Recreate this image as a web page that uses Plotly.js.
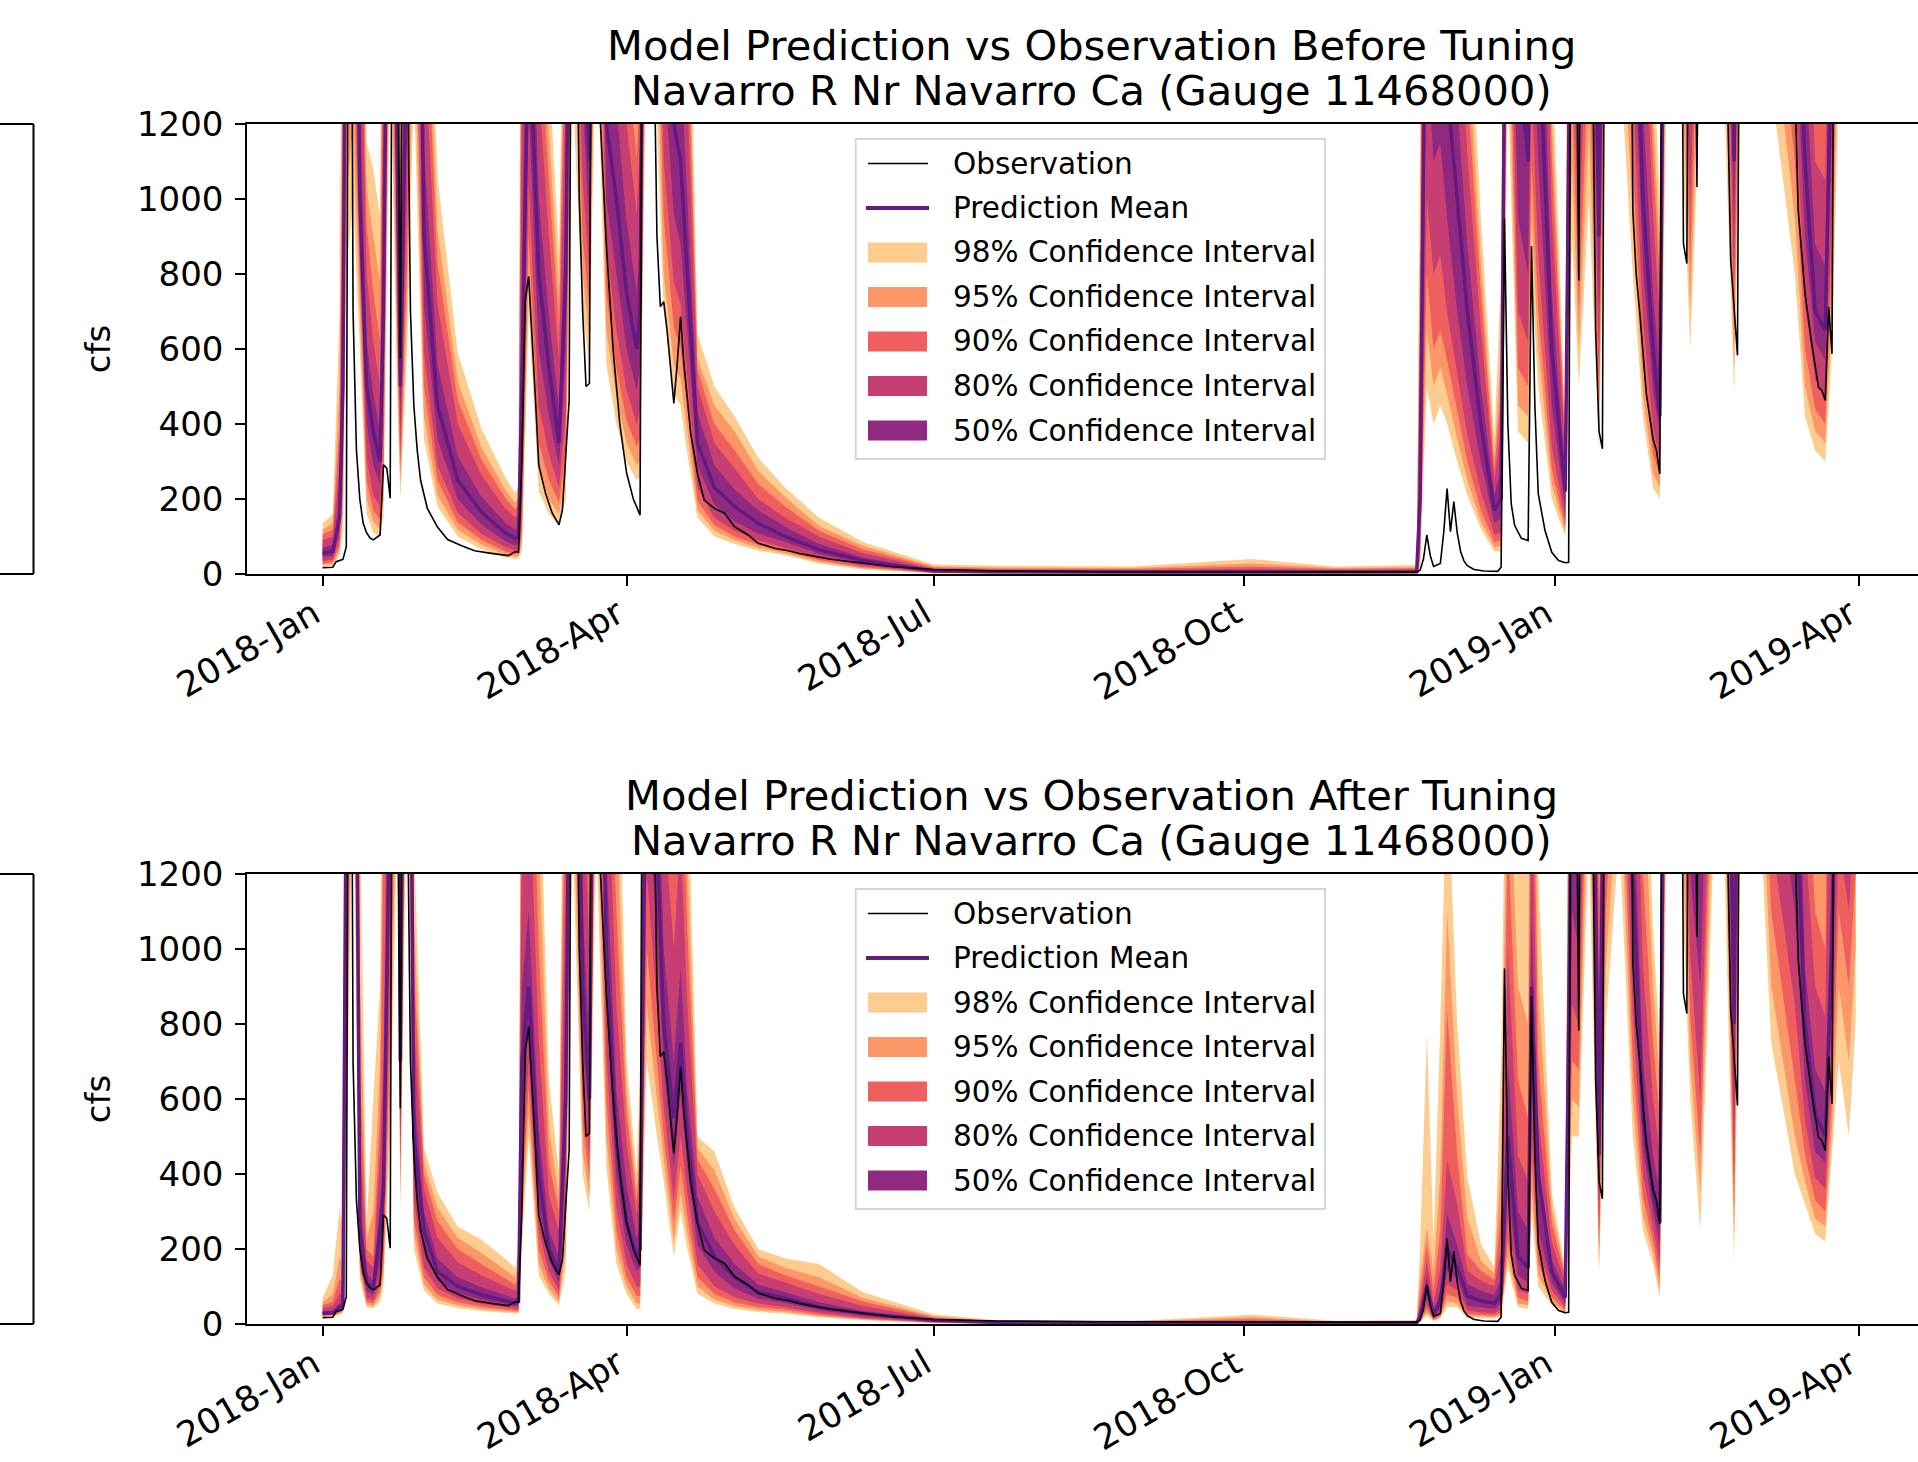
<!DOCTYPE html>
<html><head><meta charset="utf-8">
<script src="https://cdn.plot.ly/plotly-3.0.1.min.js"></script>
<style>html,body{margin:0;padding:0;overflow:hidden;background:#fff}#chart{width:1960px;height:1462px}</style>
</head><body><div id="chart"></div>
<script>
// ---------- data (day offsets from 2018-01-01) ----------
const bandDays = [0,3,5,6,7,9,11,13,15,17, 18,20,22,23,25,27,30,34,40,47, 54,57,58,59,61,64,67,70,72,74, 77,79,81,84,87,90,93,94,96,99, 101,104,106,108,111,116,122,129,137,147, 160,181,200,240,275,300,324,325,327,329, 331,333,336,339,343,347,349,351,354,357, 358,360,364,368,370,372,375,378,380,384, 388,391,394,396,398,402,405,408,412,415, 418,420,426,429,436,439,442,445,447,449, 452,454];

// Before tuning
const beforeMean = [55,60,150,500,2000,2500,1000,500,380,300, 700,2500,1200,500,1500,3000,900,450,250,165, 110,95,100,500,1500,800,550,350,800,2500, 1500,1100,3000,1200,1000,750,600,700,3000,2500, 1800,1200,1100,800,350,230,180,135,100,65, 35,8,6,5,6,5,6,200,2000,1500, 1500,1300,1000,700,400,170,200,2500,1400,1100, 2000,1500,600,220,2000,1500,2500,900,2500,2500, 1800,1000,600,420,2500,2500,1500,2500,2500,2500, 1100,2500,2500,2500,1800,1100,700,650,1500,2500, 2500,2500];
const beforeLo98 = [20,22,50,120,800,1000,600,160,110,100, 150,1400,500,200,600,1300,360,180,100,66, 44,40,42,60,700,220,160,130,200,1300, 700,550,1500,560,400,300,250,260,1500,1200, 700,480,450,320,150,100,80,62,50,28, 12,1,1,1,1,1,1,20,500,400, 450,400,300,210,120,60,60,1300,380,350, 800,500,200,100,900,500,1000,330,1300,1400, 800,420,230,200,1300,1300,600,1300,1300,1300, 480,1300,1300,1300,800,420,330,300,600,1300, 1300,1300];
const beforeLo95 = [24,26,62,160,1000,1200,700,200,140,120, 200,1600,600,235,700,1500,420,210,118,78, 52,46,48,80,800,280,200,160,260,1500, 800,620,1700,650,470,350,290,300,1700,1400, 800,560,520,380,170,115,90,70,55,32, 15,2,1,1,2,1,2,30,650,500, 550,480,360,250,140,70,75,1500,450,420, 950,600,240,112,1100,600,1200,390,1500,1600, 950,480,270,230,1500,1500,700,1500,1500,1500, 550,1500,1500,1500,950,500,380,350,700,1500, 1500,1500];
const beforeLo90 = [28,32,75,220,1200,1400,780,250,170,145, 280,1800,700,275,820,1700,500,250,138,91, 60,53,55,110,900,350,250,190,330,1700, 900,700,1900,750,550,410,340,360,1900,1600, 950,660,600,440,195,130,100,78,62,37, 18,3,2,2,3,2,3,45,800,600, 650,570,430,300,170,85,90,1700,550,500, 1100,700,280,125,1300,700,1400,460,1700,1800, 1100,560,320,265,1700,1700,820,1700,1700,1700, 650,1700,1700,1700,1100,600,440,400,820,1700, 1700,1700];
const beforeLo80 = [35,38,95,300,1400,1700,850,310,210,180, 380,2000,850,325,980,2000,590,290,163,107, 72,62,65,170,1050,450,320,230,430,1900, 1050,800,2200,880,650,490,400,440,2200,1900, 1100,780,720,520,230,150,115,90,70,44, 22,4,3,3,4,3,4,70,1000,800, 850,700,530,370,220,105,110,1900,700,620, 1300,850,340,145,1500,850,1700,560,1900,2000, 1300,680,390,310,1900,1900,980,1900,1900,1900, 780,1900,1900,1900,1300,720,520,470,980,1900, 1900,1900];
const beforeLo50 = [45,48,120,400,1700,2100,920,400,290,240, 520,2200,1000,400,1200,2500,720,360,200,132, 88,76,80,300,1250,600,420,290,580,2200, 1250,930,2500,1000,800,600,490,560,2500,2200, 1350,960,880,640,290,185,140,108,85,54, 28,6,4,4,5,4,5,120,1400,1100, 1150,950,700,500,300,135,150,2200,950,800, 1600,1100,450,175,1800,1100,2000,700,2200,2200, 1500,830,490,370,2200,2200,1200,2200,2200,2200, 930,2200,2200,2200,1500,900,620,570,1200,2200, 2200,2200];
const beforeHi50 = [70,78,200,700,2500,3100,1250,620,480,380, 900,3000,1500,625,1900,3800,1130,560,313,206, 138,118,125,800,1900,1000,690,440,1000,3000, 1900,1350,3600,1500,1250,940,750,880,3600,3000, 2300,1500,1380,1000,430,290,225,170,125,80, 44,11,8,7,9,7,9,300,2600,1900, 1900,1650,1250,880,500,210,280,3000,1750,1380, 2500,1900,750,265,2500,1900,3100,1130,3000,3000, 2200,1250,750,530,3000,3000,1900,3000,3000,3000, 1380,3000,3000,3000,2200,1380,880,820,1900,3000, 3000,3000];
const beforeHi80 = [90,100,280,1000,3200,4000,1600,800,620,500, 1300,3600,1900,800,2400,4800,1440,720,400,264, 176,150,160,1200,2400,1300,900,570,1300,3600, 2400,1700,4300,1900,1600,1200,960,1150,4300,3600, 2900,1900,1760,1280,500,350,280,200,150,100, 55,14,11,10,14,10,12,500,3200,2400, 2400,2100,1600,1120,650,250,380,3600,2200,1760, 3200,2400,960,315,3000,2400,3800,1440,3600,3600, 2800,1600,960,680,3600,3600,2400,3600,3600,3600, 1760,3600,3600,3600,2800,1760,1100,1050,2400,3600, 3600,3600];
const beforeHi90 = [105,118,380,1300,3700,4600,1850,930,750,620, 1700,4000,2200,925,2800,5500,1670,830,463,305, 204,172,185,1600,2800,1500,1050,660,1550,4000, 2800,1950,4800,2200,1850,1390,1110,1350,4800,4000, 3300,2200,2030,1480,545,400,330,240,180,115, 65,17,14,13,20,13,15,700,3700,2800, 2800,2450,1850,1300,750,280,480,4000,2600,2030, 3700,2800,1110,345,3500,2800,4400,1670,4000,4000, 3200,1850,1110,780,4000,4000,2800,4000,4000,4000, 2030,4000,4000,4000,3200,2030,1250,1200,2800,4000, 4000,4000];
const beforeHi95 = [118,135,500,1600,4100,5100,2050,1030,900,780, 2000,4400,2500,1025,3100,6000,1850,920,513,338, 226,190,205,2000,3100,1700,1180,740,1750,4400, 3100,2150,5200,2500,2050,1540,1230,1550,5200,4400, 3700,2450,2250,1640,575,450,380,275,205,128, 75,20,17,16,28,16,18,900,4100,3100, 3100,2700,2050,1450,830,310,600,4400,2900,2250, 4100,3100,1230,365,3900,3100,4900,1850,4400,4400, 3500,2050,1230,870,4400,4400,3100,4400,4400,4400, 2250,4400,4400,4400,3500,2250,1380,1350,3100,4400, 4400,4400];
const beforeHi98 = [135,160,700,2000,4700,5800,2350,1150,1080,950, 2400,5000,2800,1180,3500,7000,2100,1060,590,388, 259,215,235,2500,3500,2000,1350,850,2000,5000, 3500,2450,6000,2900,2350,1760,1410,1800,6000,5000, 4200,2800,2600,1880,640,500,420,310,230,150, 85,25,22,20,40,20,24,1200,4600,3500, 3500,3100,2350,1650,950,360,800,5000,3300,2600, 4600,3500,1410,385,4400,3500,5500,2100,5000,5000, 4000,2350,1410,1000,5000,5000,3500,5000,5000,5000, 2600,5000,5000,5000,4000,2600,1580,1550,3500,5000, 5000,5000];

// After tuning
const afterMean = [28,30,45,50,1500,3000,260,110,95,250, 350,1500,2500,700,3000,500,250,140,100,78, 62,55,60,700,900,400,200,140,600,2500, 900,600,2500,1000,480,270,180,200,1800,1300, 800,550,750,500,270,180,125,85,68,45, 28,10,4,3,4,3,3,20,100,25, 60,200,150,75,62,55,80,500,180,150, 900,400,140,70,1500,1200,2500,450,2000,2500, 1200,550,350,270,2500,2500,1500,1300,2500,2500, 800,2500,2500,2500,1500,800,560,500,1000,2000, 1800,2000];
const afterLo98 = [18,20,25,30,400,1500,120,45,42,60, 100,500,1300,300,1500,200,90,55,42,35, 30,28,28,200,500,130,80,50,150,1300, 400,300,1300,420,160,80,40,40,700,500, 380,180,300,200,80,55,40,32,28,18, 10,2,1,0.5,1,1,1,5,22,8, 15,45,45,16,16,15,20,150,45,40, 300,100,50,25,500,500,1300,130,800,1300, 500,250,160,70,1300,1300,600,250,1300,1300, 170,1300,1300,750,400,320,240,220,450,700, 500,800];
const afterLo95 = [20,22,28,33,500,1700,140,52,48,75, 130,600,1500,340,1700,240,105,65,50,40, 34,31,31,260,560,160,95,60,200,1500, 460,340,1500,500,200,100,55,55,850,600, 440,220,350,240,100,65,48,38,32,21, 12,3,1,1,1.5,1,1,7,31,10, 18,62,55,22,20,18,25,180,55,50, 360,130,60,30,600,580,1500,160,950,1500, 600,290,190,90,1500,1500,700,350,1500,1500, 230,1500,1500,900,500,380,280,260,520,900, 700,1000];
const afterLo90 = [22,24,31,37,650,1900,160,60,55,90, 160,750,1700,380,1900,280,125,78,58,46, 39,35,35,330,630,200,115,72,260,1700, 530,390,1700,600,250,125,75,75,1000,700, 500,270,420,290,125,80,58,45,38,25, 14,4,2,1.5,2,1.5,1.5,9,40,12, 22,80,70,27,25,22,30,220,70,60, 430,160,72,36,700,680,1700,200,1100,1700, 700,340,220,120,1700,1700,820,450,1700,1700, 300,1700,1700,1100,650,450,330,300,600,1100, 900,1200];
const afterLo80 = [24,26,35,41,800,2200,185,70,63,110, 200,900,1900,430,2200,330,150,95,68,54, 45,40,40,420,700,250,140,88,340,1900, 620,450,1900,720,310,160,100,100,1200,850, 580,330,500,350,160,100,72,55,45,30, 17,5,2,2,2.5,2,2,12,53,15, 28,107,90,36,31,28,40,280,90,80, 520,200,90,45,850,800,1900,250,1300,1900, 830,400,260,160,1900,1900,980,600,1900,1900, 400,1900,1900,1300,850,540,390,360,700,1300, 1100,1400];
const afterLo50 = [26,28,40,46,1100,2600,220,88,77,160, 260,1150,2200,500,2600,400,190,115,82,65, 54,48,50,550,800,320,170,110,450,2200, 750,520,2200,860,390,210,140,150,1450,1050, 680,420,620,420,210,140,95,68,56,37, 22,7,3,2.5,3,2.5,2.5,16,71,19, 40,142,120,49,45,40,55,360,130,110, 650,250,110,55,1100,1000,2200,330,1600,2200, 1000,470,300,210,2200,2200,1200,900,2200,2200, 550,2200,2200,1600,1100,650,460,430,850,1600, 1400,1700];
const afterHi50 = [34,36,55,60,2000,3500,330,135,115,320, 450,1900,3000,900,3500,620,300,175,125,98, 78,68,75,900,1100,520,250,180,800,3000, 1100,750,3000,1250,620,370,230,260,2200,1600, 1000,700,950,620,340,230,160,105,85,58, 35,12,5,4,6,4,4,30,125,35, 90,294,210,107,89,78,120,700,300,250, 1100,420,170,90,1900,1500,3000,600,2500,3000, 1450,700,450,350,3000,3000,1900,1800,3000,3000, 900,3000,3000,2600,2000,950,680,620,1250,2500, 2200,2500];
const afterHi80 = [42,48,80,80,2600,4200,480,170,150,450, 700,2400,3600,1300,4200,800,360,230,165,130, 100,88,100,1300,1500,750,340,250,1200,3600, 1500,1000,3600,1600,850,480,290,350,2800,2000, 1350,1000,1300,850,400,300,210,135,110,80, 48,15,6,5,9,5,5,50,169,55, 150,436,320,142,116,100,200,1000,450,380, 1500,550,220,110,2400,1900,3600,850,3100,3600, 1900,950,600,450,3600,3600,2400,2500,3600,3600, 1300,3600,3600,3200,2600,1300,900,820,1600,3100, 2800,3100];
const afterHi90 = [50,60,120,110,3000,4700,680,200,180,560, 1300,2800,4000,1700,4700,950,400,275,200,160, 120,105,130,1700,1900,1000,430,300,1600,4000, 1900,1300,4000,1900,1100,560,330,450,3200,2400, 1700,1300,1600,1050,440,360,250,160,130,100, 60,18,7,6,13,6,6,80,214,90, 250,837,450,187,142,118,300,1300,650,550, 1900,700,270,125,2800,2200,4000,1100,3600,4000, 2300,1200,750,550,4000,4000,2800,3000,4000,4000, 1700,4000,4000,3600,3000,1600,1100,1000,1900,3600, 3200,3600];
const afterHi95 = [58,80,180,150,3400,5200,950,225,300,700, 1600,3100,4400,2100,5200,1100,430,310,230,190, 145,125,160,2000,2300,1300,520,340,2000,4400, 2300,1600,4400,2200,1400,620,360,550,3600,2700, 2000,1600,1900,1250,470,410,280,180,150,125, 70,21,8,7,18,7,8,120,258,140, 400,1100,600,285,169,135,450,1600,900,800, 2300,900,310,135,3100,2500,4400,1400,4000,4400, 2700,1500,900,650,4400,4400,3100,3400,4400,4400, 2100,4400,4400,4000,3400,1900,1300,1200,2200,4000, 3600,4000];
const afterHi98 = [70,130,310,250,4000,6000,1400,260,600,900, 2000,3500,5000,2600,6000,1300,470,350,260,225, 175,150,200,2400,2800,1600,650,400,2500,5000, 2800,2000,5000,2600,1800,700,400,700,4000,3100, 2400,2000,2300,1500,500,460,310,200,175,160, 85,26,10,8,25,9,11,200,774,220, 800,1500,800,392,214,151,700,2000,1300,1200, 2800,1200,350,145,3500,2900,5000,1800,4500,5000, 3100,1800,1050,750,5000,5000,3500,3800,5000,5000, 2600,5000,5000,4600,3800,2300,1600,1500,2600,4500, 4000,4500];

// Observation [day, cfs] (same in both panels)
const observed = [[0,17],[3,18],[4,33],[6,39],[7,73],[8,3000],[9,700],[10,330],[11,200],[12,135],[13,110],[14,96],[15,91],[16,98],[17,104],[18,291],[19,282],[20,202],[21,3000],[22,1800],[23,575],[24,2500],[25,1500],[26,700],[27,450],[28,330],[29,250],[31,175],[34,125],[37,92],[41,76],[45,62],[50,55],[54,51],[55,49],[57,60],[58,58],[59,300],[60,730],[61,793],[62,642],[63,470],[64,290],[66,215],[68,162],[70,131],[71,171],[72,320],[73,464],[74,2500],[75,1800],[76,1000],[77,700],[78,500],[79,508],[80,2500],[81,2000],[82,1250],[84,880],[86,600],[88,400],[90,270],[92,200],[94,157],[95,2500],[97,3000],[98,1500],[99,900],[100,713],[101,726],[102,650],[103,553],[104,455],[105,560],[106,686],[107,560],[108,470],[109,375],[111,268],[113,197],[116,175],[119,162],[122,126],[126,104],[129,82],[134,68],[138,62],[141,55],[150,40],[160,28],[168,20],[181,12],[200,8],[230,6],[260,5],[290,5],[324,5],[325,10],[326,40],[327,104],[328,50],[329,20],[331,28],[332,110],[333,228],[334,113],[335,193],[336,110],[337,60],[338,35],[339,22],[341,12],[344,8],[348,7],[349,18],[350,948],[351,400],[352,187],[353,130],[355,95],[357,89],[358,874],[359,450],[360,214],[362,116],[364,58],[366,36],[368,30],[369,31],[370,2500],[371,1800],[372,783],[373,2500],[375,2000],[376,1500],[377,650],[378,380],[379,334],[380,2500],[387,2500],[388,970],[389,800],[390,703],[391,580],[392,481],[394,360],[395,330],[396,267],[397,2500],[402,2500],[403,881],[404,828],[405,2500],[406,2000],[407,1032],[408,2500],[415,2500],[416,1300],[417,837],[418,703],[419,583],[420,2500],[435,2500],[436,1300],[437,970],[439,748],[441,614],[443,498],[444,489],[445,463],[446,712],[447,587],[448,2500],[454,2500]];

const tickDates = ['2018-01-01','2018-04-01','2018-07-01','2018-10-01','2019-01-01','2019-04-01'];
const yTicks = [0,200,400,600,800,1000,1200];
const titlesBefore = ['Model Prediction vs Observation Before Tuning','Navarro R Nr Navarro Ca (Gauge 11468000)'];
const titlesAfter = ['Model Prediction vs Observation After Tuning','Navarro R Nr Navarro Ca (Gauge 11468000)'];
const legendLabels = ['Observation','Prediction Mean','98% Confidence Interval','95% Confidence Interval','90% Confidence Interval','80% Confidence Interval','50% Confidence Interval'];
const bandColors = ['#fdcd90','#fc9868','#ef5f5d','#c73e73','#8f2a80'];
const meanColor = '#641a80';

// ---------- build ----------
const all = [beforeMean,beforeLo98,beforeLo95,beforeLo90,beforeLo80,beforeLo50,beforeHi50,beforeHi80,beforeHi90,beforeHi95,beforeHi98,
  afterMean,afterLo98,afterLo95,afterLo90,afterLo80,afterLo50,afterHi50,afterHi80,afterHi90,afterHi95,afterHi98];
all.forEach((a,i)=>{ if(a.length!==bandDays.length) throw new Error('array '+i+' length '+a.length+' != '+bandDays.length); });

const T0 = Date.UTC(2018,0,1);
const toDate = d => new Date(T0 + d*86400000).toISOString().slice(0,10);
const bx = bandDays.map(toDate);
const ox = observed.map(p=>toDate(p[0]));
const oy = observed.map(p=>p[1]);

const W = 1960, H = 1462;
const px = x => x/W, py = y => 1 - y/H;
const FONT = 'DejaVu Sans, Liberation Sans, sans-serif';

function panel(xa, ya, mean, bands){
  const tr = [];
  bands.forEach((b,i)=>{
    tr.push({x:bx, y:b[0], xaxis:xa, yaxis:ya, mode:'lines', line:{width:0,color:bandColors[i]}, hoverinfo:'skip', showlegend:false});
    tr.push({x:bx, y:b[1], xaxis:xa, yaxis:ya, mode:'lines', line:{width:0,color:bandColors[i]}, fill:'tonexty', fillcolor:bandColors[i], name:legendLabels[i+2], hoverinfo:'skip', showlegend:false});
  });
  tr.push({x:bx, y:mean, xaxis:xa, yaxis:ya, mode:'lines', line:{width:3.5,color:meanColor}, name:'Prediction Mean', showlegend:false});
  tr.push({x:ox, y:oy, xaxis:xa, yaxis:ya, mode:'lines', line:{width:1.6,color:'#000'}, name:'Observation', showlegend:false});
  return tr;
}

const traces = [].concat(
  panel('x','y', beforeMean, [[beforeLo98,beforeHi98],[beforeLo95,beforeHi95],[beforeLo90,beforeHi90],[beforeLo80,beforeHi80],[beforeLo50,beforeHi50]]),
  panel('x2','y2', afterMean, [[afterLo98,afterHi98],[afterLo95,afterHi95],[afterLo90,afterHi90],[afterLo80,afterHi80],[afterLo50,afterHi50]])
);

function xAxis(anchor){
  return {domain:[px(247.3),px(1935)], anchor:anchor, type:'date', range:['2017-12-09 16:19','2019-04-23 12:00'],
    tickmode:'array', tickvals:tickDates, tickformat:'%Y-%b', tickangle:-30,
    ticks:'outside', ticklen:10, tickwidth:2, tickcolor:'#000', ticklabelshift:-9, ticklabelstandoff:-6,
    showline:true, linecolor:'#000', linewidth:2, mirror:true, showgrid:false, zeroline:false,
    tickfont:{family:FONT,size:35,color:'#000'}, fixedrange:true};
}
function yAxis(anchor, top, bottom){
  return {domain:[py(bottom),py(top)], anchor:anchor, range:[0,1200], tickmode:'array', tickvals:yTicks,
    ticks:'outside', ticklen:10, tickwidth:2, tickcolor:'#000', ticklabelstandoff:5,
    showline:true, linecolor:'#000', linewidth:2, mirror:true, showgrid:false, zeroline:false,
    tickfont:{family:FONT,size:34,color:'#000'},
    title:{text:'cfs', font:{family:FONT,size:34,color:'#000'}, standoff:16}, fixedrange:true};
}

const shapes = [], annotations = [];
function addPanelDecor(dy, titles){
  annotations.push({xref:'paper',yref:'paper',x:px(1091),y:py(45.3+dy),text:titles[0],showarrow:false,xanchor:'center',yanchor:'middle',font:{family:FONT,size:41.6,color:'#000'}});
  annotations.push({xref:'paper',yref:'paper',x:px(1091),y:py(90.5+dy),text:titles[1],showarrow:false,xanchor:'center',yanchor:'middle',font:{family:FONT,size:41.6,color:'#000'}});
  const L = {type:'line',xref:'paper',yref:'paper',line:{color:'#000',width:2}};
  shapes.push(Object.assign({},L,{x0:0,x1:px(33.5),y0:py(124+dy),y1:py(124+dy)}));
  shapes.push(Object.assign({},L,{x0:px(33.5),x1:px(33.5),y0:py(124+dy),y1:py(574+dy)}));
  shapes.push(Object.assign({},L,{x0:0,x1:px(33.5),y0:py(574+dy),y1:py(574+dy)}));
  shapes.push({type:'rect',xref:'paper',yref:'paper',x0:px(855.7),x1:px(1325),y0:py(139+dy),y1:py(459+dy),
    line:{color:'#d6d6d6',width:2},fillcolor:'rgba(255,255,255,0.85)'});
  legendLabels.forEach((lab,i)=>{
    const yc = 163.5 + 44.5*i + dy;
    if(i===0){
      shapes.push({type:'line',xref:'paper',yref:'paper',x0:px(868),x1:px(928),y0:py(yc),y1:py(yc),line:{color:'#000',width:1.6}});
    } else if(i===1){
      shapes.push({type:'line',xref:'paper',yref:'paper',x0:px(866),x1:px(929),y0:py(yc),y1:py(yc),line:{color:meanColor,width:4}});
    } else {
      shapes.push({type:'rect',xref:'paper',yref:'paper',x0:px(868),x1:px(927),y0:py(yc-10),y1:py(yc+10),line:{width:0},fillcolor:bandColors[i-2]});
    }
    annotations.push({xref:'paper',yref:'paper',x:px(951),y:py(yc),text:lab,showarrow:false,xanchor:'left',yanchor:'middle',font:{family:FONT,size:29.5,color:'#000'}});
  });
}
addPanelDecor(0, titlesBefore);
addPanelDecor(750, titlesAfter);

const layout = {
  width:W, height:H, margin:{l:0,r:0,t:0,b:0}, paper_bgcolor:'#fff', plot_bgcolor:'#fff',
  showlegend:false, font:{family:FONT,color:'#000'},
  xaxis:xAxis('y'), yaxis:yAxis('x',124,574),
  xaxis2:xAxis('y2'), yaxis2:yAxis('x2',874,1324),
  shapes:shapes, annotations:annotations
};
Plotly.newPlot('chart', traces, layout, {staticPlot:true, displayModeBar:false});
</script></body></html>
